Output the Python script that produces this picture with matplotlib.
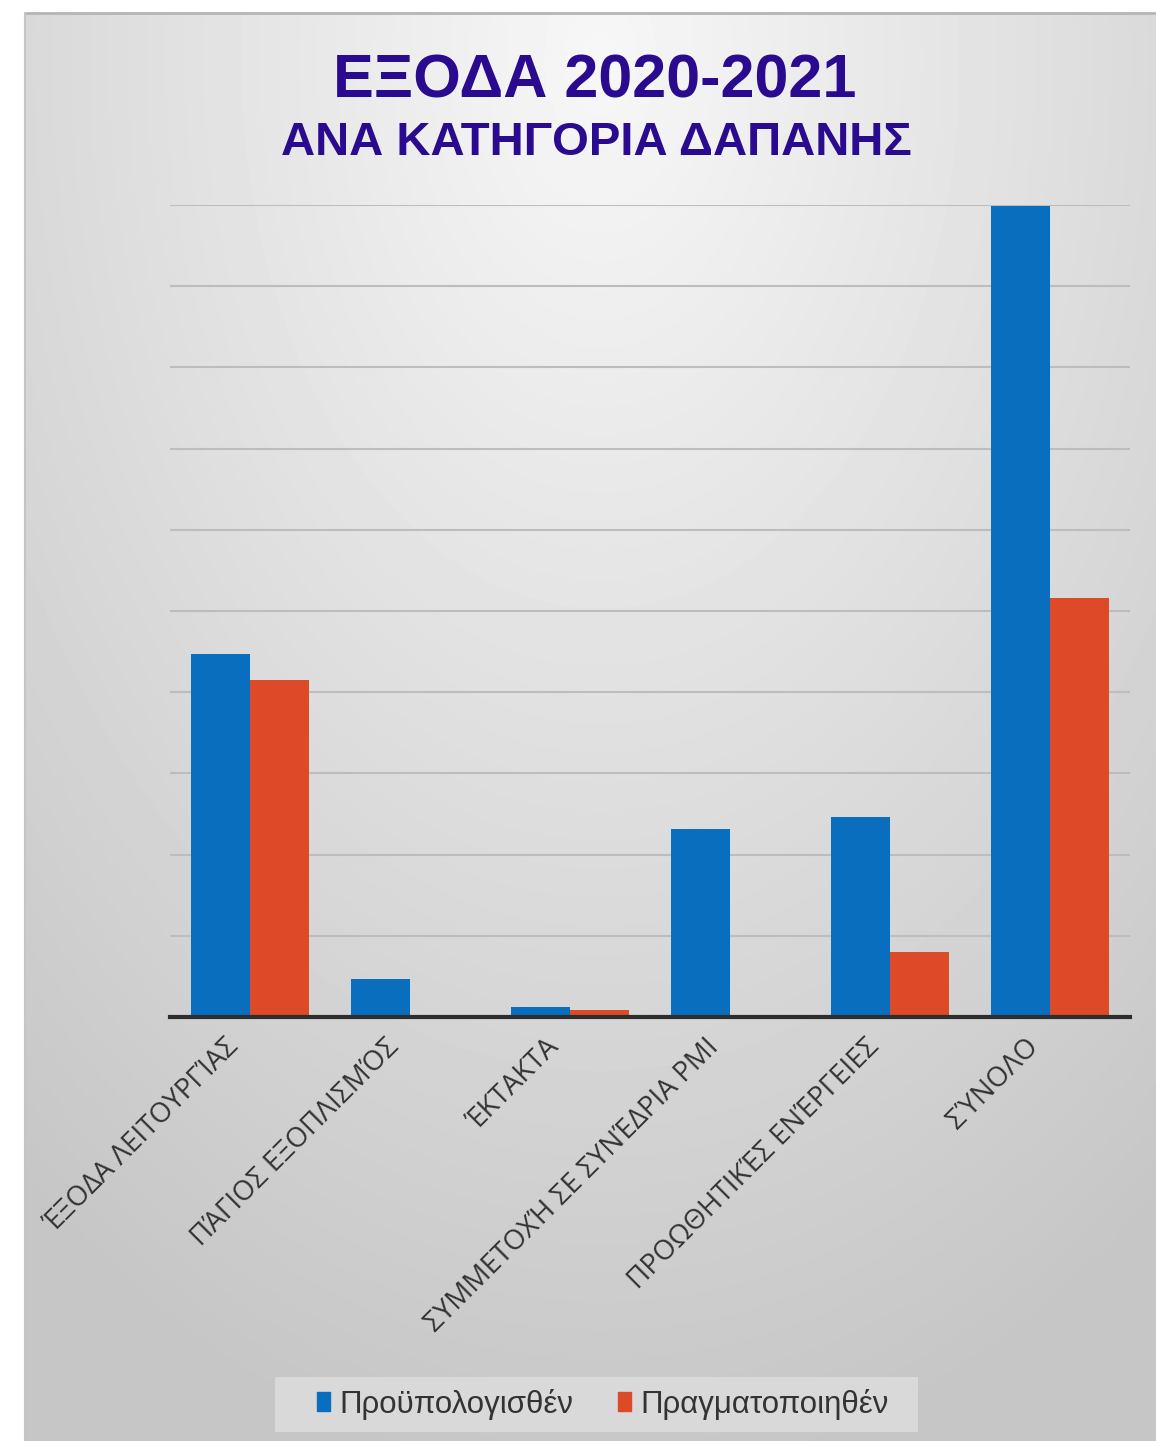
import numpy as np
import matplotlib
matplotlib.use("Agg")
import matplotlib.pyplot as plt
from matplotlib.patches import Patch, Rectangle
from matplotlib.transforms import ScaledTranslation

categories = ["ΈΞΟΔΑ ΛΕΙΤΟΥΡΓΊΑΣ", "ΠΆΓΙΟΣ ΕΞΟΠΛΙΣΜΌΣ", "ΈΚΤΑΚΤΑ",
              "ΣΥΜΜΕΤΟΧΉ ΣΕ ΣΥΝΈΔΡΙΑ ΡΜΙ", "ΠΡΟΩΘΗΤΙΚΈΣ ΕΝΈΡΓΕΙΕΣ", "ΣΎΝΟΛΟ"]
budgeted = [4.47, 0.47, 0.12, 2.32, 2.46, 9.99]
actual = [4.15, 0.02, 0.09, 0.0, 0.80, 5.16]
series_names = ["Προϋπολογισθέν", "Πραγματοποιηθέν"]

blue = "#0A6EBF"
red = "#DD4A27"
title_color = "#2A0A8E"

W, H = 1156, 1441
fig = plt.figure(figsize=(W / 100, H / 100), dpi=100, facecolor="white")

# gray gradient backdrop
bg = fig.add_axes([25 / W, 0, 1 - 25 / W, 1 - 13 / H], zorder=-10)
yy, xx = np.mgrid[13:H, 25:W]
r = np.sqrt(((xx - 600) / 950.0) ** 2 + ((yy - 60) / 1450.0) ** 2)
shade = np.clip(247 - 50 * r, 198, 247) / 255.0
bg.imshow(shade, cmap="gray", vmin=0, vmax=1, aspect="auto",
          extent=[0, 1, 0, 1], interpolation="bilinear")
bg.set_xlim(0, 1)
bg.set_ylim(0, 1)
bg.axis("off")
fig.add_artist(plt.Line2D([25 / W, 1], [1 - 13 / H, 1 - 13 / H],
                          transform=fig.transFigure, color="#b5b5b5", lw=2))
fig.add_artist(plt.Line2D([25 / W, 25 / W], [0, 1 - 13 / H],
                          transform=fig.transFigure, color="#c5c5c5", lw=1.5))

ax = fig.add_axes([170 / W, (H - 1017) / H, 960 / W, 812 / H])
ax.patch.set_alpha(0)
x = np.arange(len(categories))
w = 0.37
ax.bar(x - w / 2, budgeted, w, color=blue, zorder=3, label=series_names[0])
ax.bar(x + w / 2, actual, w, color=red, zorder=3, label=series_names[1])

ax.set_xlim(-0.5, len(categories) - 0.5)
ax.set_ylim(0, 10)
ax.set_yticks(np.arange(1, 11))
ax.yaxis.grid(True, color="#bdbdbd", lw=1.5, zorder=0)
ax.tick_params(axis="y", left=False, labelleft=False)
ax.tick_params(axis="x", bottom=False, pad=8)
for s in ["left", "right", "top"]:
    ax.spines[s].set_visible(False)
ax.spines["bottom"].set_color("#2d2d2d")
ax.spines["bottom"].set_linewidth(3)
ax.spines["bottom"].set_zorder(4)

ax.set_xticks(x)
ax.set_xticklabels(categories, rotation=45, ha="right", rotation_mode="anchor",
                   fontsize=20, color="#333333", family=["Open Sans", "DejaVu Sans"])
for lbl in ax.get_xticklabels():
    lbl.set_transform(lbl.get_transform() + ScaledTranslation(-0.25, 0, fig.dpi_scale_trans))

fig.text(595 / W, 1 - 97 / H, "ΕΞΟΔΑ 2020-2021", ha="center", va="baseline",
         fontsize=44, fontweight="bold", color=title_color, family="Liberation Sans")
fig.text(596 / W, 1 - 155 / H, "ΑΝΑ ΚΑΤΗΓΟΡΙΑ ΔΑΠΑΝΗΣ", ha="center", va="baseline",
         fontsize=34, fontweight="bold", color=title_color, family="Liberation Sans")

# legend backdrop box
fig.add_artist(Rectangle((275 / W, 1 - 1432 / H), 643 / W, 55 / H,
                         transform=fig.transFigure, facecolor="#d9d9d9",
                         edgecolor="none", zorder=1))

handles = [Patch(color=blue), Patch(color=red)]
leg = fig.legend(handles, series_names, loc="center",
                 bbox_to_anchor=(603 / W, 1 - 1404 / H), ncol=2,
                 frameon=False, handlelength=0.4, handleheight=0.55, handletextpad=0.3,
                 columnspacing=1.45, borderpad=0.2, borderaxespad=0,
                 prop={"family": "Liberation Sans", "size": 22.5})
leg.set_zorder(2)
for t in leg.get_texts():
    t.set_color("#333333")

fig.savefig("out.png", dpi=100, facecolor="white")
